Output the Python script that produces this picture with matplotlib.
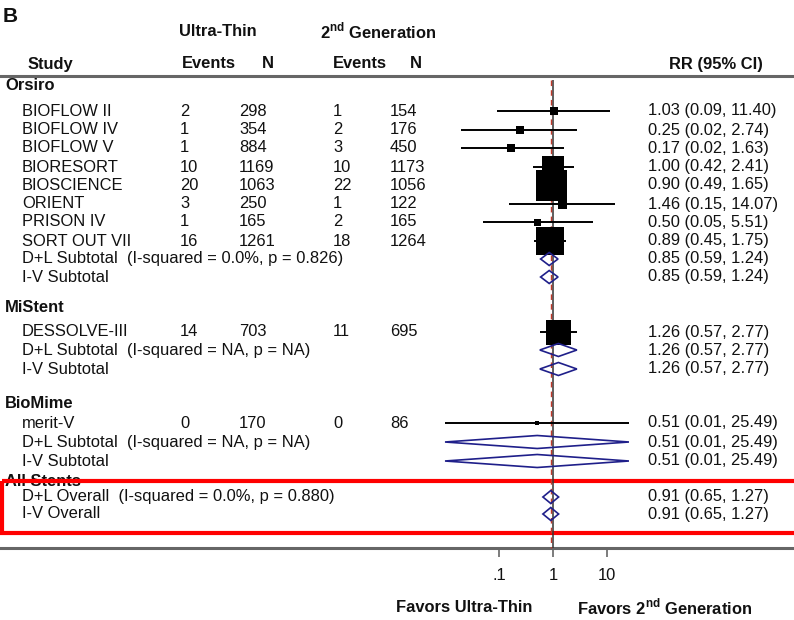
import numpy as np
import matplotlib
matplotlib.use("Agg")
import matplotlib.pyplot as plt
from matplotlib.patches import Polygon, Rectangle

plt.rcParams['font.family'] = ['Liberation Sans', 'DejaVu Sans']
plt.rcParams['font.size'] = 11.9
plt.rcParams['mathtext.fontset'] = 'custom'
plt.rcParams['mathtext.rm'] = 'Liberation Sans'
plt.rcParams['mathtext.bf'] = 'Liberation Sans:bold'

# --------------------------------------------------------------------------------------------
# DATA
groups = ["Orsiro", "MiStent", "BioMime"]
studies = ["BIOFLOW II", "BIOFLOW IV", "BIOFLOW V", "BIORESORT", "BIOSCIENCE",
           "ORIENT", "PRISON IV", "SORT OUT VII", "DESSOLVE-III", "merit-V"]
ut_events = [2, 1, 1, 10, 20, 3, 1, 16, 14, 0]
ut_n = [298, 354, 884, 1169, 1063, 250, 165, 1261, 703, 170]
g2_events = [1, 2, 3, 10, 22, 1, 2, 18, 11, 0]
g2_n = [154, 176, 450, 1173, 1056, 122, 165, 1264, 695, 86]
rr = [1.03, 0.25, 0.17, 1.00, 0.90, 1.46, 0.50, 0.89, 1.26, 0.51]
rr_lo = [0.09, 0.02, 0.02, 0.42, 0.49, 0.15, 0.05, 0.45, 0.57, 0.01]
rr_hi = [11.40, 2.74, 1.63, 2.41, 1.65, 14.07, 5.51, 1.75, 2.77, 25.49]
weights = [8, 8, 8, 22, 31, 9, 7, 28, 25, 4]   # box side

sub_rr = [0.85, 1.26, 0.51]
sub_lo = [0.59, 0.57, 0.01]
sub_hi = [1.24, 2.77, 25.49]
sub_het = ["(I-squared = 0.0%, p = 0.826)", "(I-squared = NA, p = NA)",
           "(I-squared = NA, p = NA)"]

all_rr, all_lo, all_hi = 0.91, 0.65, 1.27
all_het = "(I-squared = 0.0%, p = 0.880)"

xticks = [0.1, 1, 10]
xtick_labels = [".1", "1", "10"]

# --------------------------------------------------------------------------------------------
# LAYOUT (pixel rows)
group_y = [85, 307, 404]
study_y = [111, 130, 148, 167, 185, 204, 222, 241, 332, 423]
sub_dl_y = [259, 350, 442]
sub_iv_y = [277, 369, 461]
all_label_y = 482
all_dl_y, all_iv_y = 497, 514

X0, DEC = 553, 54   # pixel of RR=1, pixels per decade

fig = plt.figure(figsize=(7.94, 6.2), dpi=100)
ax = fig.add_axes([0, 0, 1, 1])
ax.set_xlim(0, 794)
ax.set_ylim(620, 0)
ax.axis('off')

fx = fig.add_axes([440 / 794, 0, 200 / 794, 1])
fx.set_xscale('log')
fx.set_xlim(10 ** ((440 - X0) / DEC), 10 ** ((640 - X0) / DEC))
fx.set_ylim(620, 0)
fx.axis('off')
fx.patch.set_alpha(0)

txt = '#111111'
navy = '#1f1f8a'

def ci_text(e, l, h):
    return f"{e:.2f} ({l:.2f}, {h:.2f})"

def diamond(est, lo, hi, y, h=6.5):
    fx.add_patch(Polygon([(lo, y), (est, y - h), (hi, y), (est, y + h)], closed=True,
                         fill=False, edgecolor=navy, lw=1.2, clip_on=False, zorder=4))

# headers
ax.text(3, 16, "B", fontsize=15, fontweight='bold', va='center', color=txt)
ax.text(218, 31, "Ultra-Thin", fontweight='bold', ha='center', va='center', color=txt)
ax.text(378, 31, r"2$^{\mathbf{nd}}$ Generation", fontweight='bold', ha='center', va='center', color=txt)
ax.text(50, 64, "Study", fontweight='bold', ha='center', va='center', color=txt)
ax.text(209, 63, "Events", fontweight='bold', ha='center', va='center', color=txt)
ax.text(268, 63, "N", fontweight='bold', ha='center', va='center', color=txt)
ax.text(360, 64, "Events", fontweight='bold', ha='center', va='center', color=txt)
ax.text(416, 64, "N", fontweight='bold', ha='center', va='center', color=txt)
ax.text(716, 64, "RR (95% CI)", fontweight='bold', ha='center', va='center', color=txt)
ax.plot([0, 794], [76, 76], color='#666666', lw=2.2)
ax.plot([0, 794], [548, 548], color='#666666', lw=2.2)

# vertical reference lines
fx.vlines(1, 80, 548, color='#333333', lw=1.1, zorder=2)
fx.vlines(all_rr, 80, 548, color='#c0392b', lw=1, linestyles=(0, (4, 3)), zorder=2)

for g, name in enumerate(groups):
    ax.text(5, group_y[g], name, fontweight='bold', va='center', color=txt)

for i, s in enumerate(studies):
    y = study_y[i]
    ax.text(22, y, s, va='center', color=txt)
    ax.text(180, y, str(ut_events[i]), va='center', color=txt)
    ax.text(239, y, str(ut_n[i]), va='center', color=txt)
    ax.text(333, y, str(g2_events[i]), va='center', color=txt)
    ax.text(390, y, str(g2_n[i]), va='center', color=txt)
    ax.text(648, y, ci_text(rr[i], rr_lo[i], rr_hi[i]), va='center', color=txt)
    fx.hlines(y, rr_lo[i], rr_hi[i], color='black', lw=1.4, zorder=3)
    fx.plot(rr[i], y, 's', ms=weights[i] * 0.72, color='black', mew=0, zorder=3)

for g in range(len(groups)):
    ax.text(22, sub_dl_y[g], "D+L Subtotal  " + sub_het[g], va='center', color=txt)
    ax.text(22, sub_iv_y[g], "I-V Subtotal", va='center', color=txt)
    for y in (sub_dl_y[g], sub_iv_y[g]):
        ax.text(648, y, ci_text(sub_rr[g], sub_lo[g], sub_hi[g]), va='center', color=txt)
        diamond(sub_rr[g], sub_lo[g], sub_hi[g], y)

ax.text(5, all_label_y, "All Stents", fontweight='bold', va='center', color=txt)
ax.text(22, all_dl_y, "D+L Overall  " + all_het, va='center', color=txt)
ax.text(22, all_iv_y, "I-V Overall", va='center', color=txt)
for y in (all_dl_y, all_iv_y):
    ax.text(648, y, ci_text(all_rr, all_lo, all_hi), va='center', color=txt)
    diamond(all_rr, all_lo, all_hi, y)

# highlight box
ax.add_patch(Rectangle((2, 481), 800, 52, fill=False, edgecolor='#ff0000', lw=3,
                       clip_on=False, zorder=10))

# x axis ticks
fx.vlines(xticks, 548, 557, color='#666666', lw=1.2)
for t, lab in zip(xticks, xtick_labels):
    fx.text(t, 575, lab, ha='center', va='center', color=txt)

ax.text(464, 607, "Favors Ultra-Thin", fontweight='bold', ha='center', va='center', color=txt)
ax.text(665, 607, r"Favors 2$^{\mathbf{nd}}$ Generation", fontweight='bold', ha='center', va='center', color=txt)

fig.savefig("out.png", dpi=100)
